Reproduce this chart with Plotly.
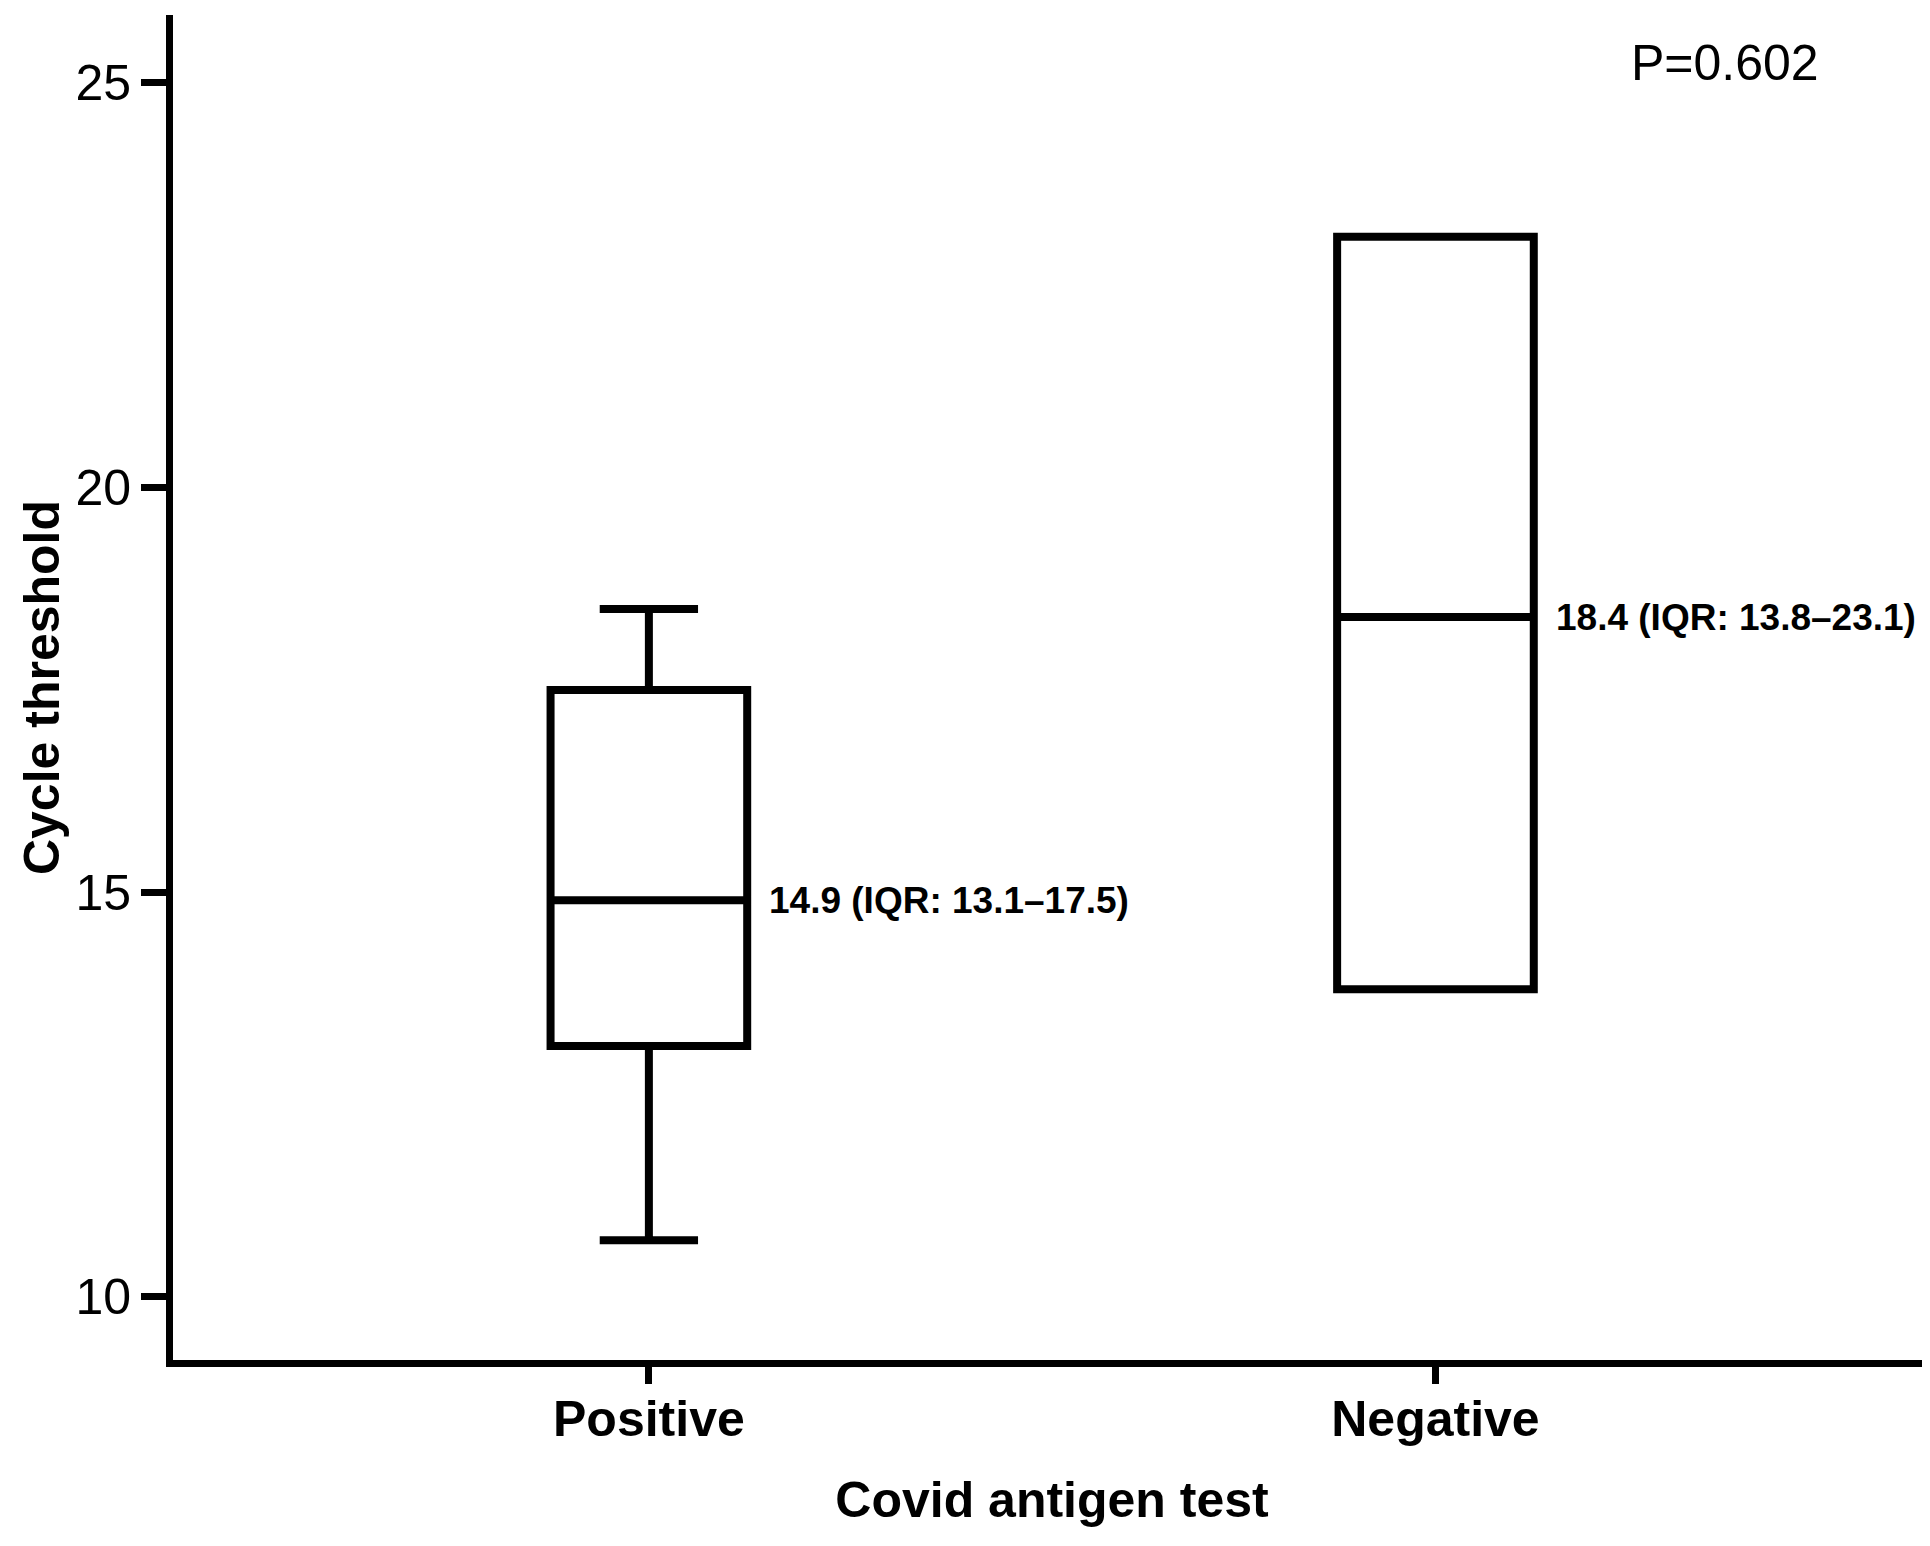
import plotly.graph_objects as go

categories = ["Positive", "Negative"]
q1 = [13.1, 13.8]
median = [14.9, 18.4]
q3 = [17.5, 23.1]
lower_whisker = [10.7, 13.8]
upper_whisker = [18.5, 23.1]
labels = ["14.9 (IQR: 13.1–17.5)", "18.4 (IQR: 13.8–23.1)"]
p_text = "P=0.602"
y_ticks = [10, 15, 20, 25]

xpos = list(range(len(categories)))
box_w = 0.25

fig = go.Figure()
for i, c in enumerate(categories):
    fig.add_trace(go.Box(
        x=[xpos[i]], q1=[q1[i]], median=[median[i]], q3=[q3[i]],
        lowerfence=[lower_whisker[i]], upperfence=[upper_whisker[i]],
        width=box_w, whiskerwidth=0.5,
        fillcolor="white", line=dict(color="black", width=8),
        boxpoints=False, hoverinfo="skip", name=c, showlegend=False,
    ))
    fig.add_annotation(
        x=xpos[i] + box_w / 2, y=median[i], text="<b>" + labels[i] + "</b>",
        xref="x", yref="y", xanchor="left", yanchor="middle", xshift=20,
        showarrow=False,
        font=dict(family="Liberation Sans, Arial", size=37, color="black"),
    )

fig.add_annotation(
    x=0.8828, y=0.9643, xref="paper", yref="paper", text=p_text,
    showarrow=False, xanchor="center", yanchor="middle",
    font=dict(family="Liberation Sans, Arial", size=50, color="black"),
)

font_main = "Liberation Sans, Arial"
fig.update_layout(
    width=1930, height=1546,
    margin=dict(l=165, r=7, t=7, b=194),
    paper_bgcolor="white", plot_bgcolor="white",
    font=dict(family=font_main, color="black"),
    showlegend=False,
)
fig.update_xaxes(
    range=[-0.605, 1.630], tickvals=xpos, ticktext=["<b>" + c + "</b>" for c in categories],
    showline=True, linecolor="black", linewidth=7, mirror=False,
    ticks="outside", ticklen=17, tickwidth=7, tickcolor="black",
    showgrid=False, zeroline=False, ticklabelstandoff=-8,
    tickfont=dict(size=50, family=font_main),
    title=dict(text="<b>Covid antigen test</b>", font=dict(size=50, family=font_main), standoff=38),
)
fig.update_yaxes(
    range=[9.22, 25.84], tickvals=y_ticks,
    showline=True, linecolor="black", linewidth=7,
    ticks="outside", ticklen=25, tickwidth=7, tickcolor="black",
    showgrid=False, zeroline=False,
    tickfont=dict(size=50, family=font_main),
    title=dict(text="<b>Cycle threshold</b>", font=dict(size=50, family=font_main), standoff=2),
)

fig.write_html("out.html")
